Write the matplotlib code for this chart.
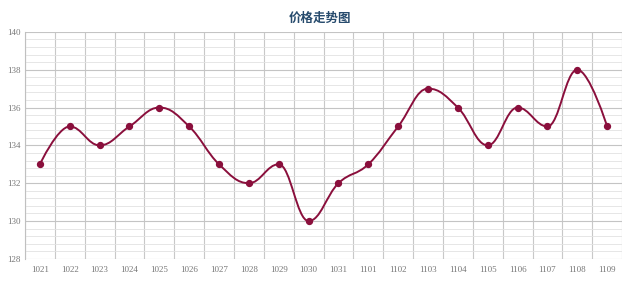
import matplotlib.pyplot as plt
from matplotlib.path import Path
from matplotlib.patches import PathPatch
import numpy as np

plt.rcParams['font.family'] = ['Noto Sans CJK SC', 'DejaVu Sans']

dates = ['1021', '1022', '1023', '1024', '1025', '1026', '1027', '1028', '1029', '1030',
         '1031', '1101', '1102', '1103', '1104', '1105', '1106', '1107', '1108', '1109']
prices = [133, 135, 134, 135, 136, 135, 133, 132, 133, 130,
          132, 133, 135, 137, 136, 134, 136, 135, 138, 135]

line_color = '#8a0f3c'


def spline_path(xs, ys, smoothing=1.5):
    # highcharts-like spline through the points
    n = len(xs)
    verts = [(xs[0], ys[0])]
    codes = [Path.MOVETO]
    conts = []
    for i in range(n):
        if i == 0 or i == n - 1:
            conts.append((xs[i], ys[i], xs[i], ys[i]))
            continue
        px, py = xs[i], ys[i]
        lx, ly = xs[i - 1], ys[i - 1]
        nx, ny = xs[i + 1], ys[i + 1]
        d = smoothing + 1
        lcx = (smoothing * px + lx) / d
        lcy = (smoothing * py + ly) / d
        rcx = (smoothing * px + nx) / d
        rcy = (smoothing * py + ny) / d
        corr = ((rcy - lcy) * (rcx - px)) / (rcx - lcx) + py - rcy
        lcy += corr
        rcy += corr
        if lcy > ly and lcy > py:
            lcy = max(ly, py)
            rcy = 2 * py - lcy
        elif lcy < ly and lcy < py:
            lcy = min(ly, py)
            rcy = 2 * py - lcy
        if rcy > ny and rcy > py:
            rcy = max(ny, py)
            lcy = 2 * py - rcy
        elif rcy < ny and rcy < py:
            rcy = min(ny, py)
            lcy = 2 * py - rcy
        conts.append((lcx, lcy, rcx, rcy))
    for i in range(1, n):
        verts += [(conts[i - 1][2], conts[i - 1][3]), (conts[i][0], conts[i][1]), (xs[i], ys[i])]
        codes += [Path.CURVE4] * 3
    return Path(verts, codes)


fig = plt.figure(figsize=(6.4, 2.82), dpi=100)
ax = fig.add_axes([0.039, 0.082, 0.933, 0.805])

x = np.arange(len(dates))
ax.add_patch(PathPatch(spline_path(list(x), prices), facecolor='none',
                       edgecolor=line_color, lw=1.4, zorder=3))
ax.scatter(x, prices, s=18, color=line_color, zorder=4)

ax.set_xlim(-0.5, len(dates) - 0.5)
ax.set_ylim(128, 140)
ax.set_yticks(np.arange(128, 141, 2))
ax.set_yticks(np.arange(128, 140.01, 0.4), minor=True)
ax.set_xticks(x)
ax.set_xticklabels(dates)
ax.set_xticks(np.arange(-0.5, len(dates), 1), minor=True)

ax.grid(True, which='major', axis='y', color='#c4c4c4', lw=0.8)
ax.grid(True, which='minor', axis='y', color='#e2e2e2', lw=0.6)
ax.grid(True, which='minor', axis='x', color='#c8c8c8', lw=0.8)
ax.set_axisbelow(True)

for s in ax.spines.values():
    s.set_visible(False)
ax.spines['left'].set_visible(True)
ax.spines['left'].set_color('#c0c0c0')
ax.spines['left'].set_linewidth(0.8)
ax.tick_params(which='both', length=0, labelsize=6.5, labelcolor='#777777')
ax.tick_params(axis='x', pad=5)
ax.tick_params(axis='y', pad=3)
for lbl in ax.get_xticklabels() + ax.get_yticklabels():
    lbl.set_family('Liberation Serif')

fig.text(0.5, 0.935, '价格走势图', ha='center', va='center', fontsize=9,
         fontweight='bold', color='#274b6d')

fig.savefig('out.png', dpi=100)
